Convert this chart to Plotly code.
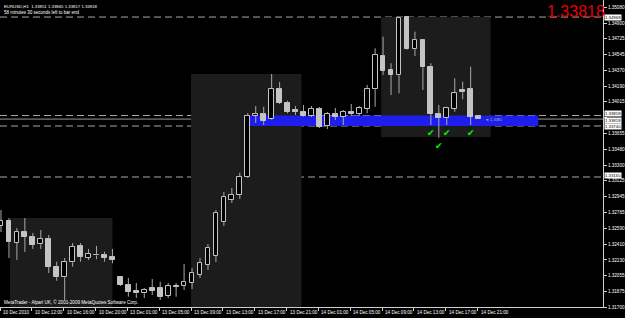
import plotly.graph_objects as go

# ---------------- data (EURUSD H1) ----------------
bar_index = list(range(61))
opens = [1.32613, 1.32673, 1.32425, 1.32549, 1.32486, 1.32407, 1.32466, 1.32154, 1.32035, 1.32204,
         1.32388, 1.32256, 1.32281, 1.32286, 1.32267, 1.32042, 1.31948, 1.31880, 1.31854, 1.31911,
         1.31911, 1.31824, 1.31942, 1.31937, 1.31974, 1.32061, 1.32173, 1.32275, 1.32658, 1.32906,
         1.32962, 1.33169, 1.33853, 1.33872, 1.33815, 1.34157, 1.33996, 1.33915, 1.33901, 1.33856,
         1.33932, 1.33740, 1.33875, 1.33841, 1.33898, 1.33875, 1.33932, 1.34154, 1.34532, 1.34371,
         1.34311, 1.34965, 1.34604, 1.34709, 1.34402, 1.33875, 1.33827, 1.33932, 1.34146, 1.34154,
         1.33851]
highs = [1.32793, 1.32703, 1.32590, 1.32703, 1.32534, 1.32568, 1.32511, 1.32211, 1.32252, 1.32421,
         1.32421, 1.32354, 1.32388, 1.32323, 1.32354, 1.32049, 1.32027, 1.31971, 1.31914, 1.32016,
         1.31985, 1.31971, 1.31971, 1.32185, 1.32140, 1.32252, 1.32410, 1.32793, 1.32996, 1.33041,
         1.33214, 1.33886, 1.33965, 1.33957, 1.34326, 1.34236, 1.34025, 1.33965, 1.33977, 1.33965,
         1.33954, 1.33898, 1.33943, 1.33920, 1.33988, 1.33965, 1.34202, 1.34616, 1.34746, 1.34447,
         1.34972, 1.34972, 1.34803, 1.34717, 1.34447, 1.33977, 1.33957, 1.34278, 1.34239, 1.34408,
         1.33865]
lows = [1.32545, 1.32252, 1.32230, 1.32320, 1.32354, 1.32354, 1.32083, 1.31996, 1.31779, 1.32154,
        1.32211, 1.32230, 1.32238, 1.32211, 1.32193, 1.31937, 1.31816, 1.31801, 1.31801, 1.31835,
        1.31779, 1.31801, 1.31816, 1.31892, 1.31903, 1.32027, 1.32117, 1.32207, 1.32613, 1.32872,
        1.32917, 1.33154, 1.33774, 1.33751, 1.33808, 1.33988, 1.33883, 1.33864, 1.33845, 1.33841,
        1.33717, 1.33706, 1.33808, 1.33751, 1.33853, 1.33853, 1.33883, 1.33957, 1.34315, 1.34089,
        1.34108, 1.34597, 1.34529, 1.34146, 1.33751, 1.33608, 1.33751, 1.33901, 1.34041, 1.33751,
        1.33817]
closes = [1.32669, 1.32436, 1.32549, 1.32486, 1.32399, 1.32466, 1.32154, 1.32035, 1.32204, 1.32380,
          1.32267, 1.32294, 1.32286, 1.32256, 1.32230, 1.31948, 1.31872, 1.31854, 1.31892, 1.31884,
          1.31816, 1.31937, 1.31931, 1.31985, 1.32087, 1.32196, 1.32365, 1.32760, 1.32940, 1.32962,
          1.33169, 1.33853, 1.33875, 1.33796, 1.34157, 1.34003, 1.33901, 1.33903, 1.33856, 1.33932,
          1.33729, 1.33875, 1.33841, 1.33898, 1.33875, 1.33939, 1.34154, 1.34540, 1.34363, 1.34315,
          1.34954, 1.34604, 1.34709, 1.34402, 1.33875, 1.33833, 1.33939, 1.34108, 1.34120, 1.33845,
          1.33818]

x_tick_index = [0, 4, 8, 12, 16, 20, 24, 28, 32, 36, 40, 44, 48, 52, 56, 60]
x_tick_labels = ["10 Dec 2010", "10 Dec 12:00", "10 Dec 16:00", "10 Dec 20:00",
                 "13 Dec 01:00", "13 Dec 05:00", "13 Dec 09:00", "13 Dec 13:00",
                 "13 Dec 17:00", "13 Dec 21:00", "14 Dec 01:00", "14 Dec 05:00",
                 "14 Dec 09:00", "14 Dec 13:00", "14 Dec 17:00", "14 Dec 21:00"]
y_tick_values = [1.31700, 1.31875, 1.32055, 1.32230, 1.32410, 1.32590, 1.32765, 1.32945,
                 1.33125, 1.33300, 1.33480, 1.33655, 1.33835, 1.34015, 1.34190, 1.34370,
                 1.34545, 1.34725, 1.34900, 1.35080]
# tick label hidden behind the price boxes in the reference
y_hidden_labels = [1.33835]

level_lines = [1.34968, 1.33858, 1.33740, 1.33165]
bid_price = 1.33818
# session boxes: (start bar, end bar, low price, high price)
session_boxes = [(1.125, 14.0, 1.31700, 1.32703),
                 (23.875, 37.75, 1.31700, 1.34326),
                 (47.75, 61.5, 1.33616, 1.34968)]
zone = (31.125, 67.5, 1.33740, 1.33858)
check_bars = [54, 55, 56, 59]

symbol_line = "EURUSD,H1  1.33851 1.33865 1.33817 1.33818"
timer_line = "58 minutes 30 seconds left to bar end"
copyright_line = "MetaTrader - Alpari UK, \u00a9 2001-2009 MetaQuotes Software Corp."

# ---------------- styling ----------------
FONT = "Liberation Sans"
AX = "#d0d0d0"
CANDLE = "#c4c4c4"
WICK = "#aaaaaa"
Y_MIN, Y_MAX = 1.31700, 1.35160
X_MIN, X_MAX = -0.125, 75.625
# small vertical nudges (px) for the axis price boxes so they don't collide
box_nudge = {1.34968: 0, 1.33858: 1.6, 1.33818: -1.4, 1.33740: -1.0, 1.33165: 1.6}

fig = go.Figure()

# wicks (upper and lower segments so they never cross the hollow bodies)
wx, wy = [], []
for i, o, h, l, c in zip(bar_index, opens, highs, lows, closes):
    top, bot = max(o, c), min(o, c)
    wx += [i, i, None, i, i, None]
    wy += [h, top, None, bot, l, None]
fig.add_trace(go.Scatter(x=wx, y=wy, mode="lines", line=dict(color=WICK, width=1),
                         hoverinfo="skip", showlegend=False))

# bodies
min_h = 0.00009
base = [min(o, c) for o, c in zip(opens, closes)]
height = [max(abs(c - o), min_h) for o, c in zip(opens, closes)]
fill = ["#000000" if c > o else CANDLE for o, c in zip(opens, closes)]
fig.add_trace(go.Bar(x=bar_index, y=height, base=base, width=0.6,
                     marker=dict(color=fill, line=dict(color=CANDLE, width=1)),
                     hoverinfo="skip", showlegend=False))

shapes = []
for x0, x1, y0, y1 in session_boxes:
    shapes.append(dict(type="rect", xref="x", yref="y", x0=x0, x1=x1, y0=y0, y1=y1,
                       fillcolor="#1c1c1c", line=dict(width=0), layer="below"))
shapes.append(dict(type="rect", xref="x", yref="y", x0=zone[0], x1=zone[1], y0=zone[2], y1=zone[3],
                   fillcolor="rgb(30,30,236)", line=dict(width=0), layer="below"))
for lv in level_lines:
    shapes.append(dict(type="line", xref="paper", yref="y", x0=0, x1=1, y0=lv, y1=lv,
                       line=dict(color="#a8a8a8", width=1, dash="7px,4px"), layer="below"))
shapes.append(dict(type="line", xref="paper", yref="y", x0=0, x1=1, y0=bid_price, y1=bid_price,
                   line=dict(color="#9a9a9a", width=1), layer="below"))

ann = []
for i, t in zip(x_tick_index, x_tick_labels):
    ann.append(dict(x=i - 0.125, y=0, xref="x", yref="paper", text=t, showarrow=False,
                    xanchor="left", yanchor="top", xshift=1, yshift=-1,
                    font=dict(family=FONT, size=4.6, color="#ffffff")))
for lv in level_lines + [bid_price]:
    ann.append(dict(x=1, y=lv, xref="paper", yref="y", text=f"{lv:.5f}", showarrow=False,
                    xanchor="left", yanchor="middle", xshift=1, yshift=box_nudge[lv],
                    bgcolor="#ffffff", borderpad=0,
                    font=dict(family=FONT, size=4.3, color="#000000")))
ann.append(dict(x=0, y=1, xref="paper", yref="paper", text=symbol_line, showarrow=False,
                xanchor="left", yanchor="top", xshift=2, yshift=-2,
                font=dict(family=FONT, size=4.3, color="#ffffff")))
ann.append(dict(x=0, y=1, xref="paper", yref="paper", text=timer_line, showarrow=False,
                xanchor="left", yanchor="top", xshift=2, yshift=-7.5,
                font=dict(family=FONT, size=4.5, color="#ffffff")))
ann.append(dict(x=0, y=0, xref="paper", yref="paper", text=copyright_line, showarrow=False,
                xanchor="left", yanchor="bottom", xshift=2, yshift=0,
                font=dict(family=FONT, size=4.6, color="#ffffff")))
ann.append(dict(x=1, y=1, xref="paper", yref="paper", text=f"{bid_price:.5f}", showarrow=False,
                xanchor="right", yanchor="top", xshift=4, yshift=-1,
                font=dict(family=FONT, size=16, color="rgb(230,0,0)")))
ann.append(dict(x=bar_index[-1] + 0.5, y=bid_price, xref="x", yref="y", text="\u25c4 1.3381",
                showarrow=False, xanchor="left", yanchor="middle",
                font=dict(family=FONT, size=4, color="#b0b0b0")))
for b in check_bars:
    ann.append(dict(x=b, y=lows[b], xref="x", yref="y", text="\u2714", showarrow=False,
                    xanchor="center", yanchor="top", yshift=-1,
                    font=dict(family="DejaVu Sans", size=9, color="#00ff00")))

fig.update_layout(
    width=625, height=318, autosize=False,
    margin=dict(l=0, r=19, t=0, b=11, pad=0),
    paper_bgcolor="#000000", plot_bgcolor="#000000",
    showlegend=False, bargap=0, shapes=shapes, annotations=ann,
    xaxis=dict(range=[X_MIN, X_MAX], showgrid=False, zeroline=False, showline=True,
               linecolor=AX, linewidth=1, tickvals=[i - 0.125 for i in x_tick_index],
               ticktext=[""] * len(x_tick_index), ticks="outside", ticklen=3,
               tickcolor=AX, fixedrange=True),
    yaxis=dict(range=[Y_MIN, Y_MAX], side="right", showgrid=False, zeroline=False,
               showline=True, linecolor=AX, linewidth=1, tickvals=y_tick_values,
               ticktext=["" if v in y_hidden_labels else f"{v:.5f}" for v in y_tick_values],
               ticks="outside", ticklen=3,
               tickcolor=AX, tickfont=dict(family=FONT, size=4.6, color="#ffffff"),
               fixedrange=True),
)

fig.write_html("out.html", config={"displayModeBar": False})
